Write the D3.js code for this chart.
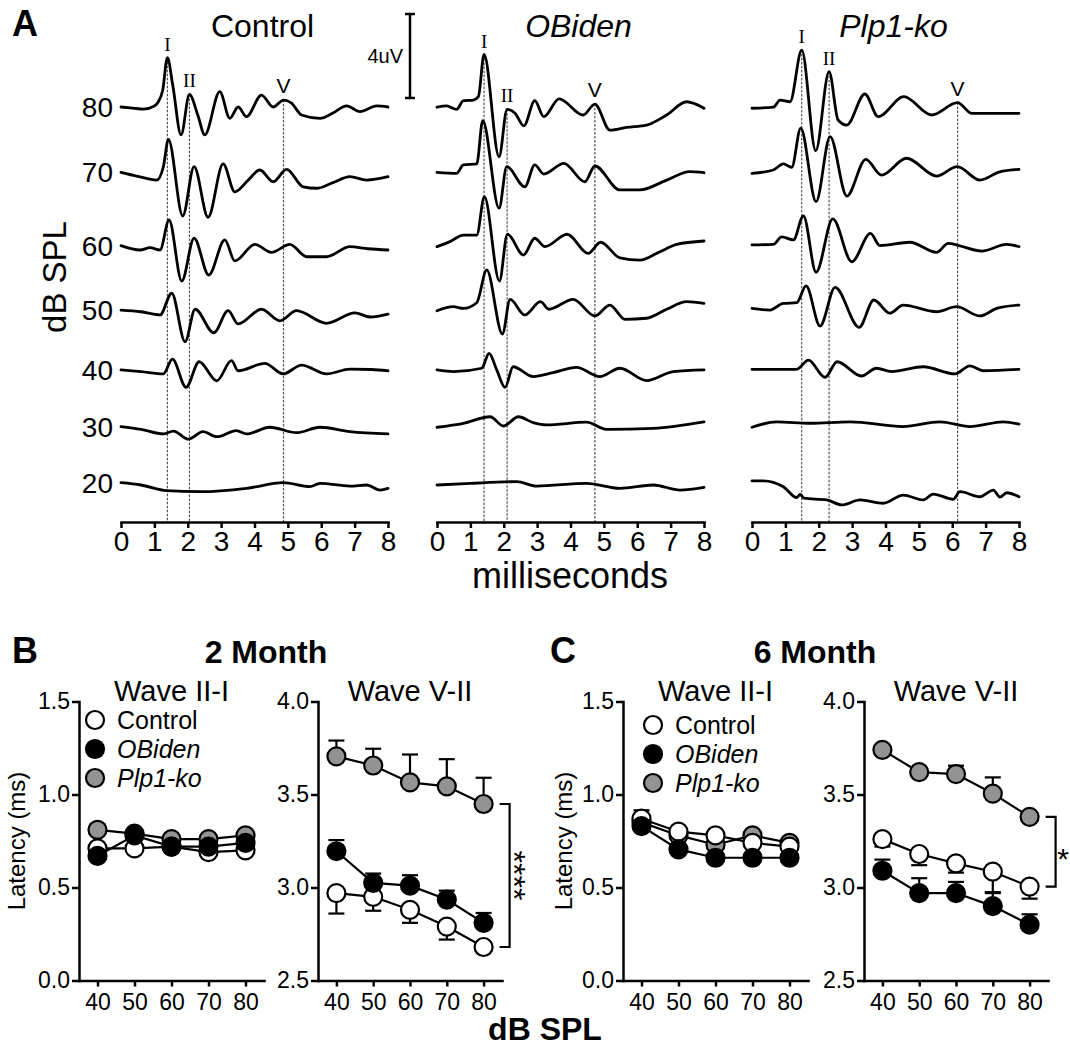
<!DOCTYPE html>
<html>
<head>
<meta charset="utf-8">
<script src="https://cdn.jsdelivr.net/npm/d3@7"></script>
<style>
body { margin: 0; background: #fff; }
svg { font-family: "Liberation Sans", Arial, sans-serif; }
</style>
</head>
<body>
<svg id="fig" width="1070" height="1049"></svg>
<script>
// ---------- panel A : ABR traces, [ms, uV] ----------
const levels = [80, 70, 60, 50, 40, 30, 20];
const timeTicks = [0, 1, 2, 3, 4, 5, 6, 7, 8];
const waveNames = ["I", "II", "V"];

const ctrlTraces = [
  [[0,0],[0.35,-0.05],[0.67,-0.1],[1.0,0.05],[1.1,0.2],[1.25,0.8],[1.39,2.35],[1.55,1.05],[1.8,-1.33],[2.05,0.6],[2.3,-0.38],[2.51,-1.33],[2.96,0.73],[3.26,-0.54],[3.51,0],[3.76,-0.46],[4.21,0.57],[4.56,0],[4.87,0.33],[5.1,0.2],[5.41,-0.38],[5.96,-0.54],[6.35,-0.29],[6.76,0.05],[7.16,-0.22],[7.66,0.05],[8,0]],
  [[0,-0.11],[0.5,-0.3],[1.07,-0.48],[1.27,0.16],[1.42,1.46],[1.85,-2.19],[2.19,0.16],[2.61,-2.25],[3.06,0.29],[3.41,-1.04],[3.8,-0.5],[4.16,0],[4.56,-0.56],[4.96,0.03],[5.46,-0.8],[5.86,-0.87],[6.35,-0.6],[6.86,-0.32],[7.36,-0.48],[8,-0.32]],
  [[0,-0.6],[0.57,-0.81],[0.87,-0.7],[1.17,-0.81],[1.44,0.62],[1.82,-2.29],[2.19,-0.25],[2.63,-2.0],[3.11,-0.33],[3.41,-1.33],[4.01,-0.54],[4.51,-0.92],[5.06,-0.54],[5.56,-1.13],[6.16,-1.13],[6.86,-0.65],[7.4,-0.75],[8,-0.81]],
  [[0,-0.67],[0.6,-0.75],[1.17,-0.9],[1.52,0.13],[1.92,-2.18],[2.22,-0.63],[2.78,-1.75],[3.21,-0.7],[3.51,-1.33],[4.21,-0.63],[4.76,-1.18],[5.26,-0.7],[6.16,-1.3],[7.01,-0.8],[7.46,-1.0],[8,-0.86]],
  [[0,-0.52],[0.6,-0.6],[1.27,-0.71],[1.54,-0.01],[1.95,-1.35],[2.34,-0.13],[2.87,-1.04],[3.31,-0.08],[3.51,-0.56],[4.31,-0.21],[4.86,-0.71],[5.41,-0.29],[6.16,-0.71],[6.86,-0.48],[7.5,-0.5],[8,-0.56]],
  [[0,-0.22],[0.6,-0.35],[1.27,-0.57],[1.57,-0.43],[2.02,-0.82],[2.46,-0.46],[2.87,-0.7],[3.46,-0.41],[3.76,-0.57],[4.46,-0.25],[5.26,-0.51],[5.96,-0.25],[6.86,-0.46],[8,-0.57]],
  [[0,0.11],[0.6,0],[1.37,-0.27],[2.37,-0.32],[3.76,-0.16],[4.86,0.11],[5.66,-0.08],[5.96,0.08],[6.86,-0.05],[7.36,0],[7.76,-0.24],[8,-0.16]]
];
const obTraces = [
  [[0,-0.01],[0.29,0.05],[0.59,-0.11],[0.79,0.3],[1.09,0.33],[1.24,0.49],[1.41,2.5],[1.86,-2.37],[2.1,-0.11],[2.34,-0.3],[2.6,-0.9],[2.93,0.3],[3.2,-0.46],[3.66,0.39],[4.38,-0.38],[4.73,0.14],[5.18,-1.1],[5.68,-0.97],[6.28,-0.86],[6.88,-0.38],[7.48,0.25],[8,-0.06]],
  [[0,-0.11],[0.59,-0.16],[0.79,0.24],[1.19,0.29],[1.37,2.35],[1.86,-1.82],[2.09,0.16],[2.63,-0.8],[2.93,0.24],[3.2,-0.19],[3.8,0.32],[4.43,-0.56],[4.73,0.19],[5.48,-0.95],[6.08,-0.95],[6.88,-0.48],[7.57,-0.08],[8,-0.13]],
  [[0,-0.65],[0.39,-0.41],[0.79,-0.1],[1.19,-0.1],[1.42,1.73],[1.87,-2.29],[2.11,-0.06],[2.59,-1.05],[2.93,-0.25],[3.23,-0.65],[3.9,-0.06],[4.53,-0.97],[4.9,-0.44],[5.48,-1.18],[6.08,-1.29],[6.68,-0.89],[7.18,-0.54],[8,-0.38]],
  [[0,-0.7],[0.49,-0.51],[0.79,-0.59],[1.19,-0.32],[1.49,1.24],[1.96,-1.81],[2.19,-0.16],[2.63,-0.9],[3.1,-0.27],[3.35,-0.63],[4.08,-0.16],[4.73,-0.95],[5.18,-0.43],[5.63,-1.11],[6.28,-1.06],[6.88,-0.63],[7.48,-0.27],[8,-0.35]],
  [[0,-0.52],[0.49,-0.6],[1.34,-0.44],[1.56,0.27],[1.79,-0.52],[2.04,-1.35],[2.28,-0.37],[2.88,-0.84],[3.48,-0.65],[4.18,-0.4],[4.88,-0.84],[5.48,-0.44],[6.28,-1.03],[7.08,-0.6],[8,-0.52]],
  [[0,-0.25],[0.79,-0.06],[1.59,0.25],[1.99,-0.19],[2.44,0.25],[2.88,-0.03],[3.28,-0.14],[4.48,-0.01],[5.08,-0.35],[6.48,-0.3],[8,0.01]],
  [[0,0],[1.0,0.08],[2.39,0.16],[2.98,-0.05],[4.48,0.08],[5.48,-0.16],[6.48,0],[7.28,-0.24],[8,-0.11]]
];
const plpTraces = [
  [[0,-0.06],[0.64,-0.01],[0.84,0.33],[1.14,0.25],[1.49,2.71],[1.91,-2.08],[2.31,1.68],[2.58,-0.62],[2.84,-0.86],[3.38,0.62],[3.78,-0.46],[4.55,0.49],[5.38,-0.38],[6.16,0.21],[6.58,-0.3],[7.3,-0.3],[8,-0.3]],
  [[0,-0.16],[0.64,0],[0.94,0.29],[1.19,0.13],[1.46,1.99],[1.92,-1.51],[2.34,1.59],[2.84,-1.24],[3.41,0.51],[3.88,-0.24],[4.63,0.56],[5.53,-0.29],[6.15,0.16],[6.83,-0.48],[7.4,-0.1],[8,0.03]],
  [[0,-0.57],[0.64,-0.54],[0.89,-0.18],[1.24,-0.33],[1.54,0.82],[1.92,-1.87],[2.42,0.67],[2.99,-1.37],[3.55,-0.02],[3.83,-0.6],[4.73,-0.44],[5.53,-0.92],[5.88,-0.49],[6.2,-0.6],[6.88,-0.86],[7.63,-0.54],[8,-0.65]],
  [[0,-0.59],[0.54,-0.67],[0.94,-0.35],[1.34,-0.32],[1.62,0.48],[2.04,-1.43],[2.49,0.41],[3.21,-1.49],[3.65,-0.19],[4.13,-0.82],[4.53,-0.43],[5.53,-0.75],[6.13,-0.51],[6.83,-0.95],[7.33,-0.59],[8,-0.43]],
  [[0,-0.49],[1.34,-0.49],[1.69,-0.05],[2.19,-0.87],[2.55,-0.13],[3.28,-0.81],[3.73,-0.44],[4.18,-0.6],[5.13,-0.37],[6.08,-0.71],[6.53,-0.33],[6.93,-0.56],[8,-0.49]],
  [[0,-0.25],[0.74,0.01],[1.74,-0.06],[2.94,0.01],[4.53,-0.22],[5.63,0.01],[6.53,-0.22],[7.53,0.01],[8,-0.1]],
  [[0,0.2],[0.34,0.2],[0.94,-0.08],[1.34,-0.6],[1.44,-0.45],[1.56,-0.63],[2.24,-0.71],[2.69,-0.95],[3.24,-0.71],[3.93,-0.87],[4.53,-0.48],[5.13,-0.71],[5.43,-0.43],[6.03,-0.68],[6.23,-0.32],[6.83,-0.56],[7.23,-0.24],[7.43,-0.58],[7.63,-0.37],[8,-0.56]]
];
// wave I, II, V latencies (ms) marked by dashed lines
const ctrlWaves = [1.39, 2.05, 4.87];
const obWaves = [1.41, 2.10, 4.73];
const plpWaves = [1.49, 2.31, 6.16];

// ---------- panels B, C : latencies (ms) ----------
const dbLevels = [40, 50, 60, 70, 80];

const ctrl2mII = [0.71, 0.71, 0.72, 0.69, 0.70], ctrl2mIIsem = [0.04, 0.02, 0.02, 0.02, 0.02];
const ob2mII   = [0.67, 0.78, 0.72, 0.72, 0.74], ob2mIIsem   = [0.02, 0.03, 0.02, 0.02, 0.02];
const plp2mII  = [0.81, 0.79, 0.76, 0.76, 0.78], plp2mIIsem  = [0.03, 0.02, 0.02, 0.02, 0.02];

const ctrl2mV = [2.97, 2.95, 2.88, 2.79, 2.68], ctrl2mVsem = [0.11, 0.075, 0.07, 0.07, 0.01];
const ob2mV   = [3.195, 3.025, 3.01, 2.935, 2.81], ob2mVsem = [0.06, 0.05, 0.056, 0.048, 0.053];
const plp2mV  = [3.705, 3.656, 3.565, 3.544, 3.449], plp2mVsem = [0.085, 0.09, 0.15, 0.146, 0.141];

const ctrl6mII = [0.87, 0.80, 0.78, 0.74, 0.72], ctrl6mIIsem = [0.03, 0.02, 0.02, 0.02, 0.02];
const ob6mII   = [0.83, 0.705, 0.66, 0.66, 0.66], ob6mIIsem  = [0.02, 0.02, 0.02, 0.02, 0.02];
const plp6mII  = [0.85, 0.78, 0.73, 0.78, 0.74], plp6mIIsem  = [0.065, 0.02, 0.02, 0.02, 0.02];

const ctrl6mV = [3.26, 3.18, 3.13, 3.085, 3.005], ctrl6mVsem = [0.04, 0.06, 0.05, 0.11, 0.065];
const ob6mV   = [3.09, 2.97, 2.97, 2.90, 2.80], ob6mVsem = [0.06, 0.08, 0.06, 0.07, 0.056];
const plp6mV  = [3.74, 3.62, 3.61, 3.505, 3.38], plp6mVsem = [0.01, 0.01, 0.045, 0.087, 0.01];

const W = 1070;
const svg = d3.select("#fig");
const SANS = "Liberation Sans, Arial, sans-serif";
const SERIF = "Liberation Serif, Times New Roman, serif";

function valueAt(tr, t) {
  const i = d3.bisector(d => d[0]).left(tr, t);
  if (i <= 0) return tr[0][1];
  if (i >= tr.length) return tr[tr.length - 1][1];
  const a = tr[i - 1], b = tr[i];
  return a[1] + (b[1] - a[1]) * (t - a[0]) / (b[0] - a[0]);
}

function styleAxis(g, w) {
  g.attr("font-family", SANS);
  g.select(".domain").attr("stroke", "#000").attr("stroke-width", w).attr("stroke-linecap", "square");
  g.selectAll(".tick line").attr("stroke", "#000").attr("stroke-width", w);
  g.selectAll(".tick text").attr("fill", "#000");
}

// ================= PANEL A =================
const axisY = 522;
const panelW = 267;
const yLevel = d3.scaleLinear().domain([20, 80]).range([485, 107]);
const yUV = d3.scaleLinear().domain([0, 4]).range([0, -84]);
const yOf = (db, v) => yLevel(db) + yUV(v);

const abrPanels = [
  {title: "Control", italic: false, x0: 121, traces: ctrlTraces, waves: ctrlWaves},
  {title: "OBiden", italic: true, x0: 437, traces: obTraces, waves: obWaves},
  {title: "Plp1-ko", italic: true, x0: 752, traces: plpTraces, waves: plpWaves}
];

svg.append("text").attr("x", 12).attr("y", 36).attr("font-size", 36).attr("font-weight", "bold").text("A");

abrPanels.forEach(p => {
  const x = d3.scaleLinear().domain([0, 8]).range([p.x0, p.x0 + panelW]);
  const g = svg.append("g");

  // dashed wave markers + roman labels
  p.waves.forEach((t, i) => {
    const yTop = yOf(80, valueAt(p.traces[0], t));
    g.append("line")
      .attr("x1", x(t)).attr("x2", x(t))
      .attr("y1", yTop).attr("y2", axisY)
      .attr("stroke", "#555").attr("stroke-width", 1.2)
      .attr("stroke-dasharray", "2.5,1.5");
    const isV = waveNames[i] === "V";
    g.append("text")
      .attr("x", x(t)).attr("y", yTop - 7)
      .attr("text-anchor", "middle")
      .attr("font-family", isV ? SANS : SERIF)
      .attr("font-size", isV ? 21 : 19)
      .text(waveNames[i]);
  });

  p.traces.forEach((tr, i) => {
    const db = levels[i];
    const line = d3.line()
      .x(d => x(d[0]))
      .y(d => yOf(db, d[1]))
      .curve(d3.curveMonotoneX);
    g.append("path")
      .attr("d", line(tr))
      .attr("fill", "none")
      .attr("stroke", "#000")
      .attr("stroke-width", 2.8)
      .attr("stroke-linejoin", "round")
      .attr("stroke-linecap", "round");
  });

  const ax = g.append("g")
    .attr("transform", `translate(0,${axisY})`)
    .call(d3.axisBottom(x).tickValues(timeTicks).tickFormat(d3.format("d")).tickSize(6).tickSizeOuter(0).tickPadding(3));
  ax.selectAll(".tick text").attr("font-size", 28);
  styleAxis(ax, 2.5);

  g.append("text")
    .attr("x", p.x0 + panelW / 2 + 8).attr("y", 37)
    .attr("text-anchor", "middle")
    .attr("font-size", 32)
    .attr("font-style", p.italic ? "italic" : "normal")
    .text(p.title);
});

// dB level labels follow the Control traces
levels.forEach((db, i) => {
  svg.append("text")
    .attr("x", 113).attr("y", yOf(db, ctrlTraces[i][0][1]))
    .attr("dy", "0.36em")
    .attr("text-anchor", "end")
    .attr("font-size", 28)
    .text(db);
});

svg.append("text")
  .attr("transform", "translate(66,277) rotate(-90)")
  .attr("text-anchor", "middle")
  .attr("font-size", 33)
  .text("dB SPL");

svg.append("text")
  .attr("x", 570).attr("y", 588)
  .attr("text-anchor", "middle")
  .attr("font-size", 36)
  .text("milliseconds");

// 4 uV scale bar
const barX = 410, barBottom = 98, barTop = barBottom + yUV(4);
const bar = svg.append("g").attr("stroke", "#000").attr("stroke-width", 2.5);
bar.append("line").attr("x1", barX).attr("x2", barX).attr("y1", barTop).attr("y2", barBottom);
bar.append("line").attr("x1", barX - 5).attr("x2", barX + 5).attr("y1", barTop).attr("y2", barTop);
bar.append("line").attr("x1", barX - 5).attr("x2", barX + 5).attr("y1", barBottom).attr("y2", barBottom);
svg.append("text").attr("x", barX - 7).attr("y", (barTop + barBottom) / 2).attr("dy", "0.36em")
  .attr("text-anchor", "end").attr("font-size", 20).text("4uV");

// ================= PANELS B, C =================
const groups = {
  ctrl: {name: "Control", fill: "#ffffff", dir: -1, italic: false},
  ob:   {name: "OBiden", fill: "#000000", dir: 1, italic: true},
  plp:  {name: "Plp1-ko", fill: "#939393", dir: 1, italic: true}
};
const plotTop = 701.5, plotBottom = 980.5;

const latPanels = [
  {x: [79, 264], yDom: [0, 1.5], title: "Wave II-I", ylab: 25, legend: [95, 720],
   data: {ctrl: [ctrl2mII, ctrl2mIIsem], ob: [ob2mII, ob2mIIsem], plp: [plp2mII, plp2mIIsem]}},
  {x: [318, 502], yDom: [2.5, 4.0], title: "Wave V-II", stars: "****",
   data: {ctrl: [ctrl2mV, ctrl2mVsem], ob: [ob2mV, ob2mVsem], plp: [plp2mV, plp2mVsem]}},
  {x: [623, 808], yDom: [0, 1.5], title: "Wave II-I", ylab: 572, legend: [653, 725],
   data: {ctrl: [ctrl6mII, ctrl6mIIsem], ob: [ob6mII, ob6mIIsem], plp: [plp6mII, plp6mIIsem]}},
  {x: [864, 1048], yDom: [2.5, 4.0], title: "Wave V-II", stars: "*",
   data: {ctrl: [ctrl6mV, ctrl6mVsem], ob: [ob6mV, ob6mVsem], plp: [plp6mV, plp6mVsem]}}
];

latPanels.forEach(p => {
  const x = d3.scaleLinear().domain([35, 85]).range(p.x);
  const y = d3.scaleLinear().domain(p.yDom).range([plotBottom, plotTop]);
  const g = svg.append("g");

  const yTicks = d3.range(p.yDom[0], p.yDom[1] + 0.01, 0.5);
  const ay = g.append("g").attr("transform", `translate(${p.x[0]},0)`)
    .call(d3.axisLeft(y).tickValues(yTicks).tickFormat(d3.format(".1f")).tickSize(7).tickSizeOuter(0).tickPadding(2));
  ay.selectAll(".tick text").attr("font-size", 23);
  styleAxis(ay, 2.5);

  const axx = g.append("g").attr("transform", `translate(0,${plotBottom})`)
    .call(d3.axisBottom(x).tickValues(dbLevels).tickSize(6).tickSizeOuter(0).tickPadding(7));
  axx.selectAll(".tick text").attr("font-size", 23);
  styleAxis(axx, 2.5);

  g.append("text").attr("x", (p.x[0] + p.x[1]) / 2).attr("y", plotTop - 1)
    .attr("text-anchor", "middle").attr("font-size", 29).text(p.title);

  if (p.ylab) {
    g.append("text")
      .attr("transform", `translate(${p.ylab},${(plotTop + plotBottom) / 2}) rotate(-90)`)
      .attr("text-anchor", "middle").attr("font-size", 24).text("Latency (ms)");
  }

  ["plp", "ctrl", "ob"].forEach(k => {
    const grp = groups[k];
    const [vals, sem] = p.data[k];
    const pts = dbLevels.map((db, i) => ({db, v: vals[i], e: sem[i]}));
    const eg = g.append("g").attr("stroke", "#000").attr("stroke-width", 2.2);
    pts.forEach(d => {
      const y2 = y(d.v + grp.dir * d.e);
      eg.append("line").attr("x1", x(d.db)).attr("x2", x(d.db)).attr("y1", y(d.v)).attr("y2", y2);
      eg.append("line").attr("x1", x(d.db) - 8).attr("x2", x(d.db) + 8).attr("y1", y2).attr("y2", y2);
    });
    g.append("path")
      .attr("d", d3.line().x(d => x(d.db)).y(d => y(d.v))(pts))
      .attr("fill", "none").attr("stroke", "#000").attr("stroke-width", 2.2);
    g.selectAll(null).data(pts).enter().append("circle")
      .attr("cx", d => x(d.db)).attr("cy", d => y(d.v)).attr("r", 9)
      .attr("fill", grp.fill).attr("stroke", "#000").attr("stroke-width", 2.2);
  });

  if (p.legend) {
    ["ctrl", "ob", "plp"].forEach((k, i) => {
      const grp = groups[k];
      const ly = p.legend[1] + i * 29;
      g.append("circle").attr("cx", p.legend[0]).attr("cy", ly).attr("r", 9)
        .attr("fill", grp.fill).attr("stroke", "#000").attr("stroke-width", 2.2);
      g.append("text").attr("x", p.legend[0] + 22).attr("y", ly).attr("dy", "0.36em")
        .attr("font-size", 25).attr("font-style", grp.italic ? "italic" : "normal").text(grp.name);
    });
  }

  if (p.stars) {
    const yA = y(p.data.plp[0][4]), yB = y(p.data.ctrl[0][4]);
    const bx0 = x(80) + 16, bx1 = x(80) + 26;
    const mid = (yA + yB) / 2;
    g.append("path")
      .attr("d", `M${bx0},${yA}H${bx1}V${yB}H${bx0}`)
      .attr("fill", "none").attr("stroke", "#000").attr("stroke-width", 2.2);
    if (p.stars.length > 1) {
      g.append("text")
        .attr("transform", `translate(${bx1 - 7},${mid}) rotate(90)`)
        .attr("text-anchor", "middle").attr("font-size", 32).text(p.stars);
    } else {
      // single star: upright, kept inside the page edge
      g.append("text")
        .attr("x", Math.min(bx1 + 8, W - 7)).attr("y", mid + 17)
        .attr("text-anchor", "middle").attr("font-size", 30).text(p.stars);
    }
  }
});

svg.append("text").attr("x", 12).attr("y", 663).attr("font-size", 36).attr("font-weight", "bold").text("B");
svg.append("text").attr("x", 550).attr("y", 663).attr("font-size", 36).attr("font-weight", "bold").text("C");
svg.append("text").attr("x", 266).attr("y", 663).attr("text-anchor", "middle").attr("font-size", 32).attr("font-weight", "bold").text("2 Month");
svg.append("text").attr("x", 815).attr("y", 663).attr("text-anchor", "middle").attr("font-size", 32).attr("font-weight", "bold").text("6 Month");
svg.append("text").attr("x", 545).attr("y", 1040).attr("text-anchor", "middle").attr("font-size", 32).attr("font-weight", "bold").text("dB SPL");
</script>
</body>
</html>
